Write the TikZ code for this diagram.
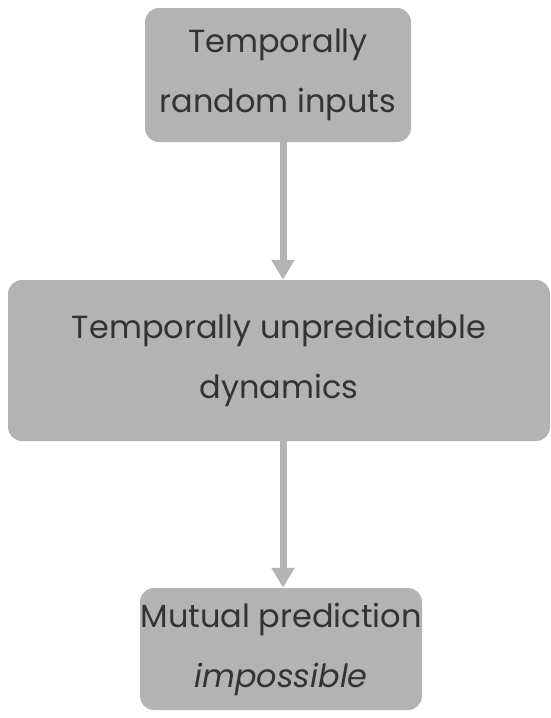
\documentclass[tikz,border=0pt]{standalone}
\usepackage{fontspec}
\setmainfont{Poppins}
\usetikzlibrary{arrows.meta}
\definecolor{boxgray}{HTML}{B3B3B3}
\definecolor{txt}{HTML}{333333}
\begin{document}
\begin{tikzpicture}[x=1pt,y=-1pt,
  flowbox/.style={draw=none,fill=boxgray,rounded corners=14pt,text=txt,align=center,
    font=\fontsize{32}{60}\selectfont,inner sep=0pt},
  flowarrow/.style={draw=boxgray,line width=7pt,-{Triangle[length=20pt,width=22pt]}}]
\useasboundingbox (0,0) rectangle (551,718);
\node[flowbox,minimum width=266pt,minimum height=134pt] (a) at (278,75) {Temporally\\random inputs};
\node[flowbox,minimum width=542pt,minimum height=161pt] (b) at (279,360.5) {Temporally unpredictable\\dynamics};
\node[flowbox,minimum width=282pt,minimum height=122pt] (c) at (281,649) {Mutual prediction\\\textit{impossible}};
\draw[flowarrow] (a.south -| 283,0) -- (b.north -| 283,0);
\draw[flowarrow] (b.south -| 283,0) -- (c.north -| 283,0);
\end{tikzpicture}
\end{document}
